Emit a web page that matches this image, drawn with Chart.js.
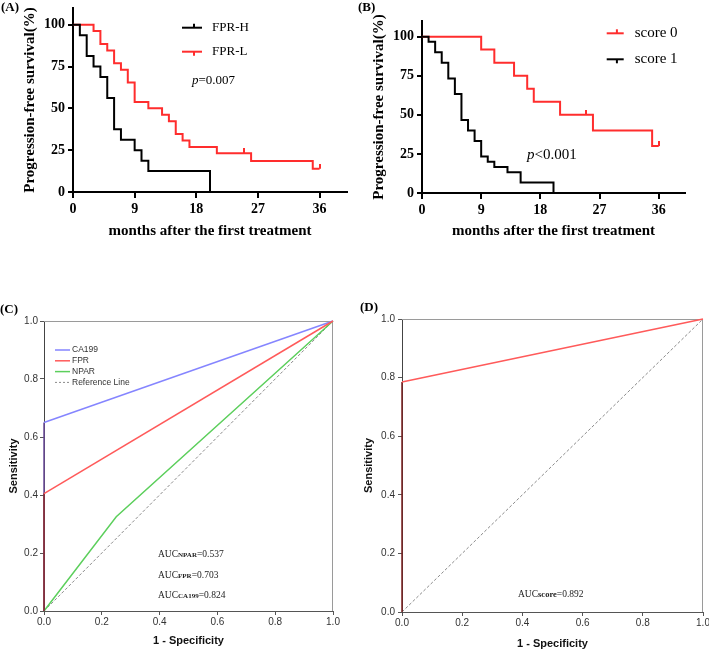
<!DOCTYPE html>
<html>
<head>
<meta charset="utf-8">
<script src="https://cdn.jsdelivr.net/npm/chart.js@4.4.1/dist/chart.umd.min.js"></script>
<style>
  body { margin: 0; background: #fff; }
  #wrap { position: relative; width: 709px; height: 649px; overflow: hidden; }
  #wrap canvas { position: absolute; }
  .tag { position: absolute; font: bold 13px "Liberation Serif", serif; line-height: 1; color: #000; }
</style>
</head>
<body>
<div id="wrap">
  <canvas id="chartA" width="355" height="240" style="left:0;top:0"></canvas>
  <canvas id="chartB" width="354" height="240" style="left:355px;top:0"></canvas>
  <canvas id="chartC" width="350" height="349" style="left:0;top:300px"></canvas>
  <canvas id="chartD" width="354" height="349" style="left:355px;top:300px"></canvas>
  <div class="tag" style="left:1px;top:0">(A)</div>
  <div class="tag" style="left:358px;top:0">(B)</div>
  <div class="tag" style="left:0;top:302px">(C)</div>
  <div class="tag" style="left:360px;top:300px">(D)</div>
</div>
<script>
// Kaplan-Meier (A): FPR-H / FPR-L
const kmXTicks = [0, 9, 18, 27, 36];
const kmYTicks = [0, 25, 50, 75, 100];
const fprHTimes = [0, 1, 2, 3, 4, 5, 6, 7, 9, 10, 11, 20];
const fprHSurv = [100, 93.75, 81.25, 75, 68.75, 56.25, 37.5, 31.25, 25, 18.75, 12.5, 0];
const fprLTimes = [0, 3, 4, 5, 6, 7, 8, 9, 11, 13, 14, 15, 16, 17, 21, 26, 35, 36];
const fprLSurv = [100, 96.2, 88.5, 84.6, 76.9, 73.1, 65.4, 53.8, 50, 46.2, 42.3, 34.6, 30.8, 26.9, 23.1, 18.5, 13.9, 13.9];
const fprLCensorTimes = [25, 36];
const fprLCensorSurv = [23.1, 13.9];

// Kaplan-Meier (B): score 0 / score 1
const score0Times = [0, 9, 11, 14, 16, 17, 21, 26, 35, 36];
const score0Surv = [100, 91.7, 83.3, 75, 66.7, 58.3, 50, 40, 30, 30];
const score0CensorTimes = [25, 36];
const score0CensorSurv = [50, 30];
const score1Times = [0, 1, 2, 3, 4, 5, 6, 7, 8, 9, 10, 11, 13, 15, 20];
const score1Surv = [100, 96.7, 90, 83.3, 73.3, 63.3, 46.7, 40, 33.3, 23.3, 20, 16.7, 13.3, 6.7, 0];

// ROC (C) und (D)
const rocTicks = [0, 0.2, 0.4, 0.6, 0.8, 1.0];
const ca199X = [0, 0, 1];
const ca199Y = [0, 0.65, 1];
const fprX = [0, 0, 1];
const fprY = [0, 0.405, 1];
const nparX = [0, 0.25, 1];
const nparY = [0, 0.325, 1];
const scoreX = [0, 0, 1];
const scoreY = [0, 0.785, 1];
const refX = [0, 1];
const refY = [0, 1];

const RED = '#ff2d2d';
const BLACK = '#000';
const SERIF = '"Liberation Serif", "Times New Roman", serif';
const SANS = '"Liberation Sans", Arial, sans-serif';

function pts(xs, ys) {
    return xs.map((x, i) => ({ x: x, y: ys[i] }));
}

// kleiner Strich nach oben als Zensur-Marke
function censorMark(color) {
    const c = document.createElement('canvas');
    c.width = 2;
    c.height = 10;
    const g = c.getContext('2d');
    g.fillStyle = color;
    g.fillRect(0, 0, 2, 5);
    return c;
}

// Legende und Texte direkt ins Diagramm zeichnen
const notesPlugin = {
    id: 'notes',
    afterDraw(chart, args, opts) {
        const ctx = chart.ctx;
        ctx.save();
        ctx.textBaseline = 'middle';
        ctx.textAlign = 'left';
        const lg = opts.legend;
        if (lg) {
            lg.items.forEach((it, i) => {
                const y = lg.y + i * lg.step;
                ctx.strokeStyle = it.color;
                ctx.lineWidth = it.width || 1;
                ctx.setLineDash(it.dash || []);
                ctx.beginPath();
                ctx.moveTo(lg.x, y);
                ctx.lineTo(lg.x + lg.sample, y);
                ctx.stroke();
                ctx.setLineDash([]);
                if (it.censor) {
                    const mx = lg.x + lg.sample * 0.6;
                    ctx.beginPath();
                    ctx.moveTo(mx, y);
                    ctx.lineTo(mx, y + it.censor * 4);
                    ctx.stroke();
                }
                ctx.fillStyle = lg.color;
                ctx.font = lg.font;
                ctx.fillText(it.label, lg.x + lg.sample + lg.gap, y);
            });
        }
        (opts.texts || []).forEach(t => {
            let x = t.x;
            t.parts.forEach(p => {
                ctx.font = p[1];
                ctx.fillStyle = t.color || '#000';
                ctx.fillText(p[0], x, t.y + (p[2] || 0));
                x += ctx.measureText(p[0]).width;
            });
        });
        ctx.restore();
    }
};

// Rahmen oben/rechts fuer ROC
const framePlugin = {
    id: 'frame',
    beforeDatasetsDraw(chart, args, opts) {
        const { ctx, chartArea: a } = chart;
        ctx.save();
        ctx.strokeStyle = opts.color;
        ctx.lineWidth = 1;
        ctx.beginPath();
        ctx.moveTo(a.left, a.top + 0.5);
        ctx.lineTo(a.right, a.top + 0.5);
        ctx.moveTo(a.right - 0.5, a.top);
        ctx.lineTo(a.right - 0.5, a.bottom);
        ctx.stroke();
        ctx.restore();
    }
};

function kmChart(id, cfg) {
    return new Chart(document.getElementById(id), {
        type: 'line',
        data: { datasets: cfg.datasets },
        options: {
            responsive: false,
            animation: false,
            events: [],
            layout: { padding: cfg.padding },
            plugins: { legend: { display: false }, tooltip: { enabled: false }, notes: cfg.notes },
            scales: {
                x: {
                    type: 'linear', min: 0, max: 40,
                    afterBuildTicks: s => { s.ticks = kmXTicks.map(v => ({ value: v })); },
                    afterFit: s => { s.height = cfg.xHeight; s.paddingLeft = 0; s.paddingRight = 0; },
                    border: { color: '#000', width: 2 },
                    grid: { drawOnChartArea: false, color: '#000', lineWidth: 2, tickLength: 6 },
                    ticks: { color: '#000', font: { family: SERIF, size: 14, weight: 'bold' }, padding: 3, maxRotation: 0 },
                    title: { display: true, text: 'months after the first treatment', color: '#000',
                        font: { family: SERIF, size: 15, weight: 'bold', lineHeight: 1 }, padding: { top: 0, bottom: 1 } }
                },
                y: {
                    min: 0, max: 110,
                    afterBuildTicks: s => { s.ticks = kmYTicks.map(v => ({ value: v })); },
                    afterFit: s => { s.width = cfg.yWidth; s.paddingTop = 0; s.paddingBottom = 0; },
                    border: { color: '#000', width: 2 },
                    grid: { drawOnChartArea: false, color: '#000', lineWidth: 2, tickLength: 5 },
                    ticks: { color: '#000', font: { family: SERIF, size: 14, weight: 'bold' }, padding: 3 },
                    title: { display: true, text: 'Progression-free survival(%)', color: '#000',
                        font: { family: SERIF, size: 15, weight: 'bold', lineHeight: 1 }, padding: { top: cfg.yTitlePad, bottom: 0 } }
                }
            }
        },
        plugins: [notesPlugin]
    });
}

function kmLine(xs, ys, color) {
    return { data: pts(xs, ys), borderColor: color, borderWidth: 2, stepped: true, pointRadius: 0, fill: false, clip: false };
}

function kmCensor(xs, ys, color) {
    return { data: pts(xs, ys), showLine: false, pointStyle: censorMark(color), pointRadius: 5, clip: false };
}

kmChart('chartA', {
    padding: { left: 0, top: 8, right: 8, bottom: 0 },
    xHeight: 48, yWidth: 73, yTitlePad: 22.5,
    datasets: [
        kmLine(fprHTimes, fprHSurv, BLACK),
        kmLine(fprLTimes, fprLSurv, RED),
        kmCensor(fprLCensorTimes, fprLCensorSurv, RED)
    ],
    notes: {
        legend: {
            x: 182, y: 27.7, step: 24, sample: 20, gap: 10, color: '#000',
            font: '13px ' + SERIF,
            items: [
                { label: 'FPR-H', color: BLACK, width: 2, censor: -1 },
                { label: 'FPR-L', color: RED, width: 2, censor: 1 }
            ]
        },
        texts: [
            { x: 192, y: 81, parts: [['p', 'italic 13px ' + SERIF], ['=0.007', '13px ' + SERIF]] }
        ]
    }
});

kmChart('chartB', {
    padding: { left: 0, top: 21, right: 24, bottom: 0 },
    xHeight: 47, yWidth: 67, yTitlePad: 16.5,
    datasets: [
        kmLine(score1Times, score1Surv, BLACK),
        kmLine(score0Times, score0Surv, RED),
        kmCensor(score0CensorTimes, score0CensorSurv, RED)
    ],
    notes: {
        legend: {
            x: 251.7, y: 33.3, step: 26, sample: 17, gap: 11, color: '#000',
            font: '15px ' + SERIF,
            items: [
                { label: 'score 0', color: RED, width: 2, censor: -1 },
                { label: 'score 1', color: BLACK, width: 2, censor: 1 }
            ]
        },
        texts: [
            { x: 172, y: 155, parts: [['p', 'italic 15px ' + SERIF], ['<0.001', '15px ' + SERIF]] }
        ]
    }
});

function rocChart(id, cfg) {
    return new Chart(document.getElementById(id), {
        type: 'line',
        data: { datasets: cfg.datasets },
        options: {
            responsive: false,
            animation: false,
            events: [],
            layout: { padding: cfg.padding },
            plugins: { legend: { display: false }, tooltip: { enabled: false }, notes: cfg.notes, frame: { color: '#9a9a9a' } },
            scales: {
                x: {
                    type: 'linear', min: 0, max: 1,
                    afterBuildTicks: s => { s.ticks = rocTicks.map(v => ({ value: v })); },
                    afterFit: s => { s.height = cfg.xHeight; s.paddingLeft = 0; s.paddingRight = 0; },
                    border: { color: '#555', width: 1 },
                    grid: { drawOnChartArea: false, color: '#555', lineWidth: 1, tickLength: 4 },
                    ticks: { color: '#333', font: { family: SANS, size: 10 }, padding: 1, maxRotation: 0,
                        callback: v => v.toFixed(1) },
                    title: { display: true, text: '1 - Specificity', color: '#111',
                        font: { family: SANS, size: 11, weight: 'bold', lineHeight: 1 }, padding: { top: 0, bottom: cfg.xTitlePad } }
                },
                y: {
                    min: 0, max: 1,
                    afterBuildTicks: s => { s.ticks = rocTicks.map(v => ({ value: v })); },
                    afterFit: s => { s.width = cfg.yWidth; s.paddingTop = 0; s.paddingBottom = 0; },
                    border: { color: '#444', width: 1 },
                    grid: { drawOnChartArea: false, color: '#555', lineWidth: 1, tickLength: 4 },
                    ticks: { color: '#333', font: { family: SANS, size: 10 }, padding: cfg.yTickPad,
                        callback: v => v.toFixed(1) },
                    title: { display: true, text: 'Sensitivity', color: '#111',
                        font: { family: SANS, size: 11, weight: 'bold', lineHeight: 1 }, padding: { top: 8, bottom: 0 } }
                }
            }
        },
        plugins: [framePlugin, notesPlugin]
    });
}

function rocLine(xs, ys, color, firstColor) {
    return {
        data: pts(xs, ys), borderColor: color, borderWidth: 1.5, pointRadius: 0, fill: false, clip: false,
        segment: { borderColor: c => (firstColor && c.p0DataIndex === 0) ? firstColor : undefined }
    };
}

function refLine() {
    return { data: pts(refX, refY), borderColor: '#8a8a8a', borderWidth: 1, borderDash: [3, 2], pointRadius: 0, fill: false, clip: false };
}

const subFont = 'bold 7px ' + SERIF;
const aucFont = '9.5px ' + SERIF;

rocChart('chartC', {
    padding: { left: 0, top: 21, right: 17, bottom: 0 },
    xHeight: 38, yWidth: 44, xTitlePad: 3, yTickPad: 2,
    datasets: [
        rocLine(fprX, fprY, '#ff5a5a', '#8b2a2a'),
        rocLine(ca199X, ca199Y, '#8585ff', '#6a4a9a'),
        rocLine(nparX, nparY, '#5ccf5c'),
        refLine()
    ],
    notes: {
        legend: {
            x: 55, y: 50, step: 10.8, sample: 15, gap: 2, color: '#333',
            font: '8.5px ' + SANS,
            items: [
                { label: 'CA199', color: '#8585ff', width: 1.5 },
                { label: 'FPR', color: '#ff5a5a', width: 1.5 },
                { label: 'NPAR', color: '#5ccf5c', width: 1.5 },
                { label: 'Reference Line', color: '#8a8a8a', width: 1, dash: [2, 2] }
            ]
        },
        texts: [
            { x: 158, y: 254, color: '#222', parts: [['AUC', aucFont], ['NPAR', subFont, 1], ['=0.537', aucFont]] },
            { x: 158, y: 275, color: '#222', parts: [['AUC', aucFont], ['FPR', subFont, 1], ['=0.703', aucFont]] },
            { x: 158, y: 295, color: '#222', parts: [['AUC', aucFont], ['CA199', subFont, 1], ['=0.824', aucFont]] }
        ]
    }
});

rocChart('chartD', {
    padding: { left: 0, top: 19, right: 6, bottom: 0 },
    xHeight: 37, yWidth: 47, xTitlePad: 0, yTickPad: 3,
    datasets: [
        rocLine(scoreX, scoreY, '#ff5a5a', '#7a1f1f'),
        refLine()
    ],
    notes: {
        texts: [
            { x: 163, y: 294, color: '#222', parts: [['AUC', aucFont], ['score', 'bold 8.5px ' + SERIF, 0.5], ['=0.892', aucFont]] }
        ]
    }
});
</script>
</body>
</html>
